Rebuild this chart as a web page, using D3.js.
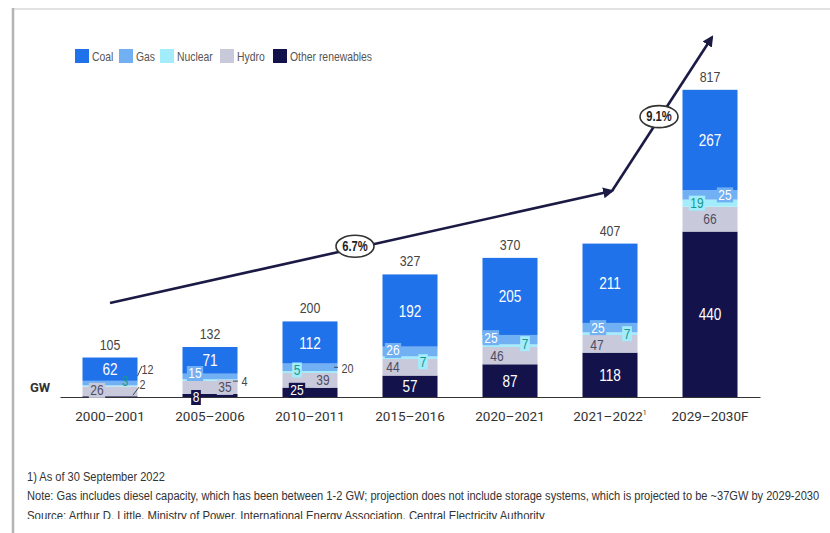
<!DOCTYPE html>
<html>
<head>
<meta charset="utf-8">
<script src="https://cdn.jsdelivr.net/npm/d3@7"></script>
<style>
  html, body { margin: 0; padding: 0; background: #fff; }
  svg { display: block; }
</style>
</head>
<body>
<svg id="chart" width="830" height="533"></svg>
<script>
// Installed capacity by source (GW)
const categories = ["2000–2001", "2005–2006", "2010–2011", "2015–2016", "2020–2021", "2021–2022", "2029–2030F"];
const totals = [105, 132, 200, 327, 370, 407, 817];
const coal = [62, 71, 112, 192, 205, 211, 267];
const gas = [12, 15, 20, 26, 25, 25, 25];
const nuclear = [3, 4, 5, 7, 7, 7, 19];
const hydro = [26, 35, 39, 44, 46, 47, 66];
const otherRenewables = [2, 8, 25, 57, 87, 118, 440];
const seriesNames = ["Coal", "Gas", "Nuclear", "Hydro", "Other renewables"];
const cagrLabels = ["6.7%", "9.1%"];
const unitLabel = "GW";
const footnotes = [
  "1) As of 30 September 2022",
  "Note: Gas includes diesel capacity, which has been between 1-2 GW; projection does not include storage systems, which is projected to be ~37GW by 2029-2030",
  "Source: Arthur D. Little, Ministry of Power, International Energy Association, Central Electricity Authority"
];

const colors = {
  "Coal": "#1f72ea",
  "Gas": "#72b0f4",
  "Nuclear": "#a2ecfb",
  "Hydro": "#c9c9dc",
  "Other renewables": "#13124a"
};
const ARIAL = "'Liberation Sans', Arial, sans-serif";
const SANS = "Roboto, 'Liberation Sans', sans-serif";
const SQUEEZE = 0.8;   // horizontal squeeze for the condensed label face

// text in a condensed look: draw at origin, then translate and squeeze
function condensed(parent, tx, ty, size, squeeze = SQUEEZE) {
  return parent.append("text")
    .attr("x", 0).attr("y", 0)
    .attr("transform", `translate(${tx},${ty}) scale(${squeeze},1)`)
    .attr("font-family", ARIAL).attr("font-size", size);
}

const rows = categories.map((c, i) => ({
  category: c,
  "Coal": coal[i],
  "Gas": gas[i],
  "Nuclear": nuclear[i],
  "Hydro": hydro[i],
  "Other renewables": otherRenewables[i]
}));

const svg = d3.select("#chart");

// page frame
const frame = svg.append("g");
frame.append("line").attr("x1", 13).attr("x2", 830).attr("y1", 9).attr("y2", 9)
  .attr("stroke", "#e2e2e2").attr("stroke-width", 2);
frame.append("line").attr("x1", 13).attr("x2", 13).attr("y1", 8).attr("y2", 533)
  .attr("stroke", "#b4b4b4").attr("stroke-width", 2.5);

const x = d3.scaleBand().domain(categories).range([60, 760]).paddingInner(0.45).paddingOuter(0.225);
const y = d3.scaleLinear().domain([0, 1000]).range([397, 21]);
const bw = x.bandwidth();
const cx = c => x(c) + bw / 2;

// stack bottom-up: other renewables, hydro, nuclear, gas, coal
const stackKeys = ["Other renewables", "Hydro", "Nuclear", "Gas", "Coal"];
const stacked = d3.stack().keys(stackKeys)(rows);

const barsG = svg.append("g");
stacked.forEach(layer => {
  barsG.selectAll(null).data(layer).enter().append("rect")
    .attr("x", d => x(d.data.category))
    .attr("width", bw)
    .attr("y", d => y(d[1]))
    .attr("height", d => y(d[0]) - y(d[1]))
    .attr("fill", colors[layer.key]);
});

// category axis along the baseline
const axisG = svg.append("g").attr("transform", `translate(0,${y(0)})`)
  .call(d3.axisBottom(x).tickSize(0).tickSizeOuter(0).tickPadding(14));
axisG.select(".domain").attr("stroke", "#333").attr("stroke-width", 1.2);
axisG.selectAll(".tick text")
  .attr("font-family", SANS).attr("font-size", 13.5).attr("fill", "#333")
  .each(function (d) {
    if (d === "2021–2022") {
      d3.select(this).append("tspan").attr("font-size", 7).attr("dy", -6).text("1");
    }
  });

svg.append("text").attr("x", 30).attr("y", 392)
  .attr("font-family", SANS).attr("font-weight", 700).attr("font-size", 13).attr("fill", "#333")
  .text(unitLabel);

// placement of segment labels (dx from bar centre, dy from segment middle)
const defaultSpot = {
  "Coal": { dx: 0, dy: 0, size: 17, color: "#fff", box: false },
  "Gas": { dx: -15, dy: 0, size: 15, color: "#fff", box: true },
  "Nuclear": { dx: 15, dy: 0, size: 15, color: "#16998a", box: true },
  "Hydro": { dx: -15, dy: 0, size: 15, color: "#4d4d62", box: true },
  "Other renewables": { dx: 0, dy: 0, size: 17, color: "#fff", box: false }
};
const spotOverrides = {
  "2000–2001|Gas": { out: true, ox: 10, dy: -14, leader: [0, -7, 4.5, -17] },
  "2000–2001|Nuclear": { dx: 15, dy: -4, box: false, size: 14 },
  "2000–2001|Hydro": { dx: -13, dy: -1 },
  "2000–2001|Other renewables": { out: true, ox: 5, dy: -12.5, leader: [-4.5, -1.5, 1.5, -9.5] },
  "2005–2006|Gas": { dx: -15, dy: -3 },
  "2005–2006|Nuclear": { out: true, ox: 7, dy: 2, leader: [-4.5, 1, 0.5, 1] },
  "2005–2006|Hydro": { dx: 15 },
  "2005–2006|Other renewables": { dx: -14, dy: 2, box: true, size: 15 },
  "2010–2011|Gas": { out: true, ox: 10, dy: 1, leader: [-3.5, 0, 0.5, 0] },
  "2010–2011|Nuclear": { dx: -13, dy: -2 },
  "2010–2011|Hydro": { dx: 13 },
  "2010–2011|Other renewables": { dx: -13, dy: -2, box: true, size: 15 },
  "2015–2016|Gas": { dx: -17, dy: -1 },
  "2015–2016|Nuclear": { dx: 13, dy: 4 },
  "2015–2016|Hydro": { dx: -17 },
  "2020–2021|Gas": { dx: -19, dy: -2 },
  "2020–2021|Nuclear": { dx: 15, dy: -2 },
  "2020–2021|Hydro": { dx: -13 },
  "2021–2022|Gas": { dx: -12 },
  "2021–2022|Nuclear": { dx: 17 },
  "2021–2022|Hydro": { dx: -13, dy: 1 },
  "2029–2030F|Gas": { dx: 15 },
  "2029–2030F|Nuclear": { dx: -13 },
  "2029–2030F|Hydro": { dx: 0 }
};

const labelsG = svg.append("g");
stacked.forEach(layer => {
  layer.forEach(d => {
    const cat = d.data.category;
    const value = d.data[layer.key];
    const spot = Object.assign({}, defaultSpot[layer.key], spotOverrides[cat + "|" + layer.key] || {});
    const mid = (y(d[0]) + y(d[1])) / 2;
    const right = x(cat) + bw;
    let tx, ty = mid + spot.dy;
    let color = spot.color, size = spot.size, box = spot.box;
    if (spot.out) {
      tx = right + spot.ox;
      color = "#444"; size = 13.5; box = false;
      const L = spot.leader;
      labelsG.append("line")
        .attr("x1", right + L[0]).attr("y1", mid + L[1])
        .attr("x2", right + L[2]).attr("y2", mid + L[3])
        .attr("stroke", "#444").attr("stroke-width", 1);
    } else {
      tx = cx(cat) + spot.dx;
    }
    const g = labelsG.append("g");
    const t = condensed(g, tx, ty, size)
      .attr("text-anchor", "middle").attr("dominant-baseline", "central")
      .attr("fill", color)
      .text(value);
    if (box) {
      const w = t.node().getComputedTextLength() * SQUEEZE + 3;
      g.insert("rect", "text")
        .attr("x", tx - w / 2).attr("y", ty - 7.5)
        .attr("width", w).attr("height", 15)
        .attr("fill", colors[layer.key]);
    }
  });
});

// totals above each bar
const topLayer = stacked[stacked.length - 1];
const totalsG = svg.append("g");
topLayer.forEach((d, i) => {
  condensed(totalsG, cx(d.data.category), y(Math.max(d[1], totals[i])) - 8, 15.5)
    .attr("text-anchor", "middle").attr("fill", "#444")
    .text(totals[i]);
});

// growth-rate arrows
const arrowColor = "#1b1a45";
const defs = svg.append("defs");
defs.append("marker").attr("id", "head")
  .attr("viewBox", "0 0 10 10").attr("refX", 8).attr("refY", 5)
  .attr("markerWidth", 11).attr("markerHeight", 11)
  .attr("markerUnits", "userSpaceOnUse").attr("orient", "auto")
  .append("path").attr("d", "M0,0 L10,5 L0,10 Z").attr("fill", arrowColor);

const p0 = [cx(categories[0]), y(250)];
const p1 = [cx(categories[5]) + 2, y(548)];
const p2 = [cx(categories[6]) + 2, y(957)];
const arrowsG = svg.append("g");
[[p0, p1], [p1, p2]].forEach(([a, b]) => {
  arrowsG.append("line")
    .attr("x1", a[0]).attr("y1", a[1]).attr("x2", b[0]).attr("y2", b[1])
    .attr("stroke", arrowColor).attr("stroke-width", 2.6)
    .attr("marker-end", "url(#head)");
});
const lerp = (a, b, t) => [a[0] + (b[0] - a[0]) * t, a[1] + (b[1] - a[1]) * t];
const badges = [
  { pos: lerp(p0, p1, (355 - p0[0]) / (p1[0] - p0[0])), text: cagrLabels[0] },
  { pos: lerp(p1, p2, 0.47), text: cagrLabels[1] }
];
badges.forEach(b => {
  arrowsG.append("ellipse").attr("cx", b.pos[0]).attr("cy", b.pos[1] - 2)
    .attr("rx", 19).attr("ry", 11)
    .attr("fill", "#fff").attr("stroke", "#333").attr("stroke-width", 1.6);
  condensed(arrowsG, b.pos[0], b.pos[1] - 2, 14)
    .attr("text-anchor", "middle").attr("dominant-baseline", "central")
    .attr("font-weight", 700).attr("fill", "#222").text(b.text);
});

// legend
const legendX = [75, 119, 160, 220, 273];
const legendG = svg.append("g");
seriesNames.forEach((name, i) => {
  legendG.append("rect").attr("x", legendX[i]).attr("y", 49)
    .attr("width", 14).attr("height", 14).attr("fill", colors[name]);
  condensed(legendG, legendX[i] + 17, 56, 13)
    .attr("dominant-baseline", "central")
    .attr("fill", "#555")
    .text(name);
});

// notes, squeezed to their line widths
defs.append("clipPath").attr("id", "noteClip")
  .append("rect").attr("x", 0).attr("y", 460).attr("width", 830).attr("height", 59);
const notesG = svg.append("g").attr("clip-path", "url(#noteClip)");
const noteY = [481, 500, 520];
const noteW = [138, 793, 518];
footnotes.forEach((txt, i) => {
  const t = condensed(notesG, 27, noteY[i], 12.5, 1).attr("fill", "#333").text(txt);
  const natural = t.node().getComputedTextLength();
  t.attr("transform", `translate(27,${noteY[i]}) scale(${noteW[i] / natural},1)`);
});
</script>
</body>
</html>
